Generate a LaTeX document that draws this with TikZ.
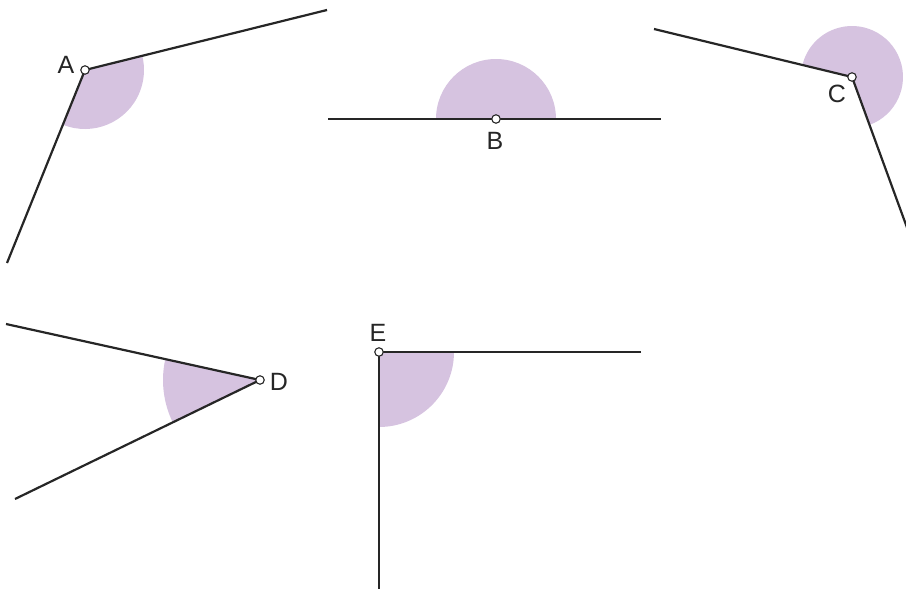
\documentclass[tikz,border=0pt]{standalone}
\usepackage{fontspec}
\setmainfont{Liberation Sans}
\definecolor{lilac}{HTML}{D6C3E0}
\definecolor{ink}{HTML}{262626}
\begin{document}
\begin{tikzpicture}[x=1pt,y=1pt,
  sector/.style={fill=lilac},
  ray/.style={draw=ink,line width=2.2pt},
  pt/.style={circle,draw=ink,fill=white,line width=1.1pt,inner sep=0pt,minimum size=8.5pt},
  lbl/.style={text=ink,font=\fontsize{25}{25}\selectfont,inner sep=0pt}]
\useasboundingbox (0,0) rectangle (906,-589);
% vertices
\coordinate (A) at (85,-70);
\coordinate (B) at (496,-119);
\coordinate (C) at (852,-77);
\coordinate (D) at (260,-380);
\coordinate (E) at (379,-352);
% ray ends
\coordinate (A1) at (327,-10);
\coordinate (A2) at (7,-263);
\coordinate (B1) at (328,-119);
\coordinate (B2) at (661,-119);
\coordinate (C1) at (654,-29);
\coordinate (C2) at (913,-244);
\coordinate (D1) at (6,-324);
\coordinate (D2) at (15,-499);
\coordinate (E1) at (641,-352);
\coordinate (E2) at (379,-595);
% sectors
\fill[sector] (A) -- ++(-112:59) arc[start angle=-112,end angle=13.9,radius=59] -- cycle;
\fill[sector] (B) -- ++(0:60) arc[start angle=0,end angle=180,radius=60] -- cycle;
\fill[sector] (C) -- ++(-69.9:51) arc[start angle=-69.9,end angle=166.4,radius=51] -- cycle;
\fill[sector] (D) -- ++(167.6:97) arc[start angle=167.6,end angle=205.9,radius=97] -- cycle;
\fill[sector] (E) -- ++(270:75) arc[start angle=270,end angle=360,radius=75] -- cycle;
% rays
\draw[ray] (A1) -- (A) -- (A2);
\draw[ray] (B1) -- (B2);
\draw[ray] (C1) -- (C) -- (C2);
\draw[ray] (D1) -- (D) -- (D2);
\draw[ray] (E1) -- (E) -- (E2);
% points
\node[pt] (pA) at (A) {};
\node[pt] (pB) at (B) {};
\node[pt] (pC) at (C) {};
\node[pt] (pD) at (D) {};
\node[pt] (pE) at (E) {};
% labels
\node[lbl] (lA) at (66,-65) {A};
\node[lbl] (lB) at (495,-141) {B};
\node[lbl] (lC) at (837,-94) {C};
\node[lbl] (lD) at (279,-382) {D};
\node[lbl] (lE) at (378,-333) {E};
\end{tikzpicture}
\end{document}
